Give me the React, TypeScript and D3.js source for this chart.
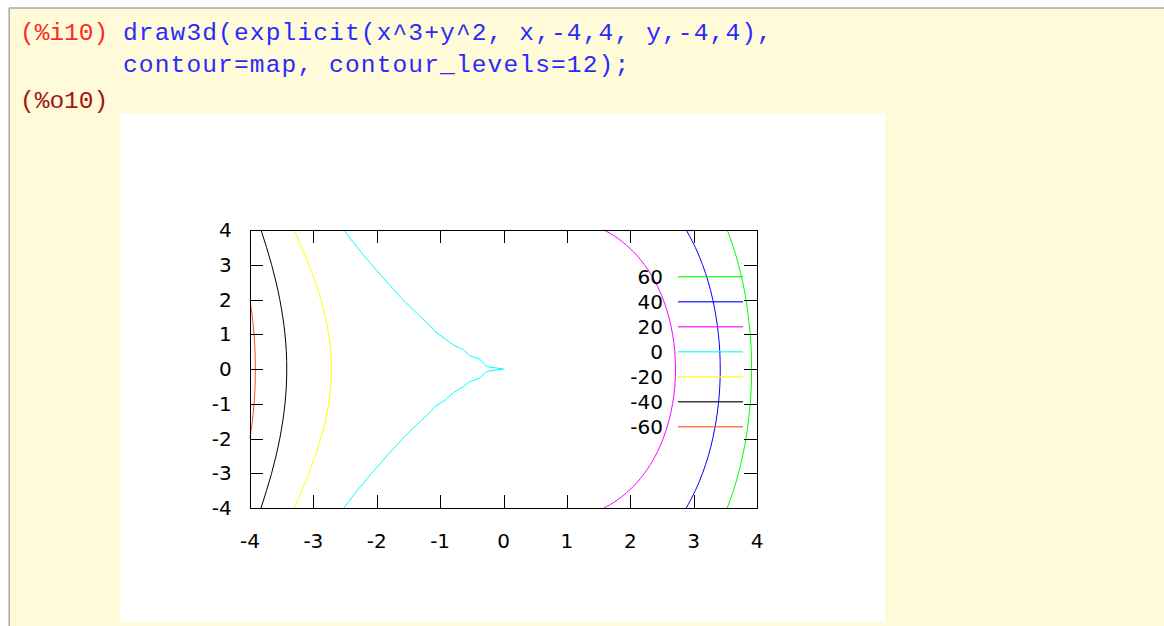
import React from "react";
import * as d3 from "d3";

// Contour levels shown in the key, top to bottom
const levels = [60, 40, 20, 0, -20, -40, -60];
const levelColors = ["#00ff00", "#0000ff", "#ff00ff", "#00ffff", "#ffff00", "#000000", "#ff4f1f"];

// Axis ticks
const xTicks = [-4, -3, -2, -1, 0, 1, 2, 3, 4];
const yTicks = [-4, -3, -2, -1, 0, 1, 2, 3, 4];

// Contour polylines as [x, y] pairs, ordered from top (y=4) to bottom
const c60: [number, number][] = [
  [3.53, 4], [3.628, 3.5], [3.708, 3], [3.774, 2.5], [3.826, 2], [3.865, 1.5], [3.893, 1], [3.91, 0.5], [3.915, 0],
  [3.91, -0.5], [3.893, -1], [3.865, -1.5], [3.826, -2], [3.774, -2.5], [3.708, -3], [3.628, -3.5], [3.53, -4],
];
const c40: [number, number][] = [
  [2.884, 4], [3.027, 3.5], [3.141, 3], [3.232, 2.5], [3.302, 2], [3.354, 1.5], [3.391, 1], [3.413, 0.5], [3.42, 0],
  [3.413, -0.5], [3.391, -1], [3.354, -1.5], [3.302, -2], [3.232, -2.5], [3.141, -3], [3.027, -3.5], [2.884, -4],
];
const c20: [number, number][] = [
  [1.587, 4], [1.685, 3.9], [1.811, 3.75], [1.979, 3.5], [2.224, 3], [2.396, 2.5], [2.52, 2], [2.608, 1.5], [2.668, 1], [2.703, 0.5], [2.714, 0],
  [2.703, -0.5], [2.668, -1], [2.608, -1.5], [2.52, -2], [2.396, -2.5], [2.224, -3], [1.979, -3.5], [1.811, -3.75], [1.685, -3.9], [1.587, -4],
];
const c0: [number, number][] = [
  [-2.52, 4], [-2.31, 3.5], [-2.08, 3], [-1.84, 2.5], [-1.59, 2], [-1.31, 1.5], [-1.16, 1.25], [-1.08, 1.08], [-0.79, 0.69],
  [-0.63, 0.55], [-0.53, 0.38], [-0.37, 0.28], [-0.27, 0.07], [0, 0],
  [-0.27, -0.07], [-0.37, -0.26], [-0.53, -0.36], [-0.63, -0.5], [-0.79, -0.68], [-0.92, -0.89], [-1.08, -1.08],
  [-1.16, -1.25], [-1.31, -1.5], [-1.59, -2], [-1.84, -2.5], [-2.08, -3], [-2.31, -3.5], [-2.52, -4],
];
const cm20: [number, number][] = [
  [-3.302, 4], [-3.183, 3.5], [-3.072, 3], [-2.972, 2.5], [-2.884, 2], [-2.812, 1.5], [-2.759, 1], [-2.726, 0.5], [-2.714, 0],
  [-2.726, -0.5], [-2.759, -1], [-2.812, -1.5], [-2.884, -2], [-2.972, -2.5], [-3.072, -3], [-3.183, -3.5], [-3.302, -4],
];
const cm40: [number, number][] = [
  [-3.826, 4], [-3.739, 3.5], [-3.659, 3], [-3.589, 2.5], [-3.53, 2], [-3.483, 1.5], [-3.448, 1], [-3.427, 0.5], [-3.42, 0],
  [-3.427, -0.5], [-3.448, -1], [-3.483, -1.5], [-3.53, -2], [-3.589, -2.5], [-3.659, -3], [-3.739, -3.5], [-3.826, -4],
];
const cm60: [number, number][] = [
  [-4, 2], [-3.963, 1.5], [-3.936, 1], [-3.92, 0.5], [-3.915, 0],
  [-3.92, -0.5], [-3.936, -1], [-3.963, -1.5], [-4, -2],
];
const contours = [c60, c40, c20, c0, cm20, cm40, cm60];

// Session cell text
const inputLabel = "(%i10)";
const inputLine1 = "draw3d(explicit(x^3+y^2, x,-4,4, y,-4,4),";
const inputLine2 = "contour=map, contour_levels=12);";
const outputLabel = "(%o10)";

export default function App() {
  const W = 1164;
  const H = 626;
  const left = 250, right = 757, top = 230, bottom = 508;
  const x = d3.scaleLinear().domain([-4, 4]).range([left, right]);
  const y = d3.scaleLinear().domain([-4, 4]).range([bottom, top]);
  const tickLen = 13;

  const smooth = d3.line<[number, number]>().x((d) => x(d[0])).y((d) => y(d[1])).curve(d3.curveMonotoneY);
  const straight = d3.line<[number, number]>().x((d) => x(d[0])).y((d) => y(d[1])).curve(d3.curveLinear);

  const tickFont = { fontFamily: "DejaVu Sans", fontSize: 20, fill: "#000" } as const;
  const codeFont = { fontFamily: "Liberation Mono", fontSize: 24.5 } as const;

  const legendTextX = 663;
  const legendLineX0 = 678;
  const legendLineX1 = 743;
  const legendY0 = 276.7;
  const legendStep = 25;

  return (
    <svg width={W} height={H} style={{ position: "absolute", left: 0, top: 0, display: "block" }}>
      <rect x={0} y={0} width={W} height={H} fill="#ffffff" />
      {/* notebook cell */}
      <rect x={9} y={8} width={W - 9} height={H - 8} fill="#fffad7" />
      <line x1={9} y1={8} x2={W} y2={8} stroke="#a8a8a8" strokeWidth={1.5} />
      <line x1={9.2} y1={8} x2={9.2} y2={H} stroke="#a8a8a8" strokeWidth={1.5} />

      <text x={20} y={40} {...codeFont} fill="#ff2828">{inputLabel}</text>
      <text x={123} y={40} {...codeFont} letterSpacing={1.15} fill="#2a2aff">{inputLine1}</text>
      <text x={123} y={72} {...codeFont} letterSpacing={1.15} fill="#2a2aff">{inputLine2}</text>
      <text x={20} y={107.5} {...codeFont} fill="#a01414">{outputLabel}</text>

      {/* plot image */}
      <rect x={120} y={113.5} width={765} height={508} fill="#ffffff" />

      <g fill="none" strokeWidth={1}>
        {contours.map((pts, i) => (
          <path key={levels[i]} d={(levels[i] === 0 ? straight : smooth)(pts) || ""} stroke={levelColors[i]} />
        ))}
      </g>

      {/* ticks on all four sides, pointing inward */}
      <g stroke="#000" strokeWidth={1}>
        {xTicks.map((t) => (
          <g key={"x" + t}>
            <line x1={Math.round(x(t)) + 0.5} x2={Math.round(x(t)) + 0.5} y1={bottom} y2={bottom - tickLen} />
            <line x1={Math.round(x(t)) + 0.5} x2={Math.round(x(t)) + 0.5} y1={top} y2={top + tickLen} />
          </g>
        ))}
        {yTicks.map((t) => (
          <g key={"y" + t}>
            <line x1={left} x2={left + tickLen} y1={Math.round(y(t)) + 0.5} y2={Math.round(y(t)) + 0.5} />
            <line x1={right} x2={right - tickLen} y1={Math.round(y(t)) + 0.5} y2={Math.round(y(t)) + 0.5} />
          </g>
        ))}
      </g>
      <rect x={left + 0.5} y={top + 0.5} width={right - left} height={bottom - top} fill="none" stroke="#000" strokeWidth={1} />

      {xTicks.map((t) => (
        <text key={"xl" + t} x={x(t)} y={548} textAnchor="middle" {...tickFont}>{t}</text>
      ))}
      {yTicks.map((t) => (
        <text key={"yl" + t} x={231.7} y={y(t)} dy="0.36em" textAnchor="end" {...tickFont}>{t}</text>
      ))}

      {/* key */}
      {levels.map((lv, i) => {
        const ly = legendY0 + i * legendStep;
        return (
          <g key={"lg" + lv}>
            <text x={legendTextX} y={ly} dy="0.36em" textAnchor="end" {...tickFont}>{lv}</text>
            <line x1={legendLineX0} x2={legendLineX1} y1={ly} y2={ly} stroke={levelColors[i]} strokeWidth={1.6} opacity={0.75} />
          </g>
        );
      })}
    </svg>
  );
}
